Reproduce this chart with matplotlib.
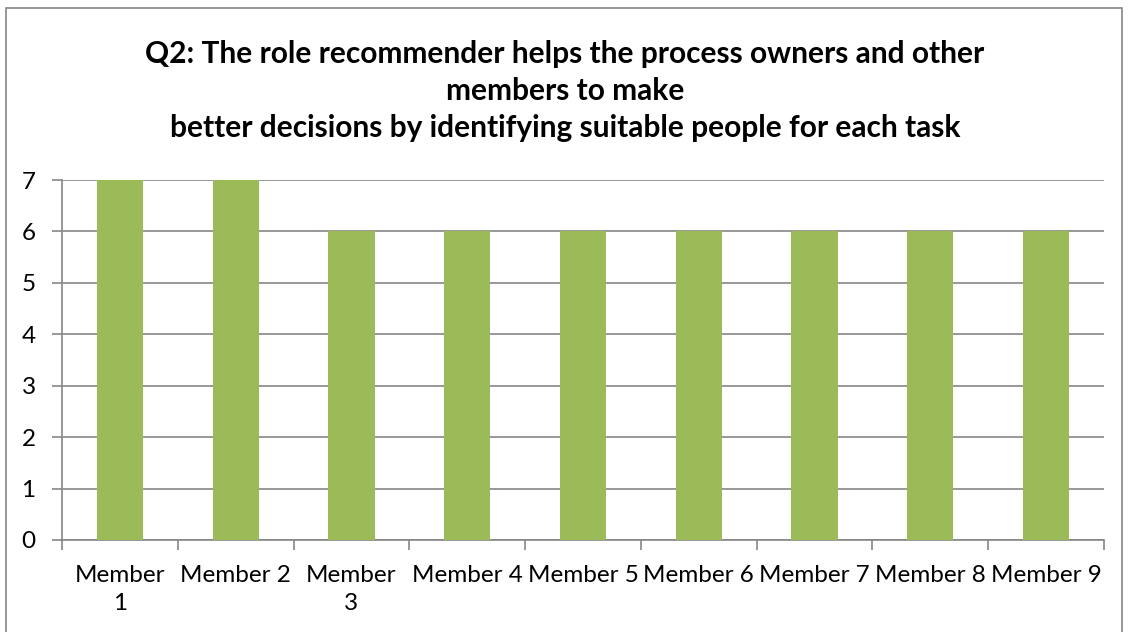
import matplotlib.pyplot as plt
from matplotlib.patches import Rectangle
import numpy as np

plt.rcParams['font.family'] = ['Lato', 'DejaVu Sans']

members = ["Member\n1", "Member 2", "Member\n3", "Member 4", "Member 5",
           "Member 6", "Member 7", "Member 8", "Member 9"]
scores = [7, 7, 6, 6, 6, 6, 6, 6, 6]
yticks = [0, 1, 2, 3, 4, 5, 6, 7]

title = ("Q2: The role recommender helps the process owners and other\n"
         "members to make\n"
         "better decisions by identifying suitable people for each task")

fig = plt.figure(figsize=(11.3, 6.32), dpi=100)
ax = fig.add_axes([62 / 1130, 1 - 540 / 632, (1104 - 62) / 1130, 360 / 632])

x = np.arange(len(members))
ax.bar(x, scores, width=0.4, color="#9BBB59", zorder=3)

ax.set_xlim(-0.5, len(members) - 0.5)
ax.set_ylim(0, 7)
ax.set_yticks(yticks)
ax.yaxis.grid(True, color="#868686", linewidth=1.2, zorder=0)

# category labels centred, tick marks between categories
ax.set_xticks(x)
ax.set_xticklabels(members, fontsize=17.5, linespacing=1.4)
ax.set_xticks(np.arange(-0.5, len(members)), minor=True)
ax.tick_params(axis="x", which="major", length=0, pad=18)
ax.tick_params(axis="x", which="minor", length=7, width=1.2, color="#868686", direction="out")
ax.tick_params(axis="y", length=7, width=1.2, color="#868686", labelsize=17.5, pad=12)

for side in ["top", "right"]:
    ax.spines[side].set_visible(False)
for side in ["left", "bottom"]:
    ax.spines[side].set_color("#868686")
    ax.spines[side].set_linewidth(1.2)

fig.text(565 / 1130, 1 - 40 / 632, title, ha="center", va="top",
         fontsize=21.5, fontweight="bold", linespacing=1.4)

fig.patches.append(Rectangle((6 / 1130, -0.01), 1116 / 1130, 1 - 8 / 632 + 0.01,
                             transform=fig.transFigure, fill=False,
                             edgecolor="#868686", linewidth=1.2))

fig.savefig("out.png", dpi=100)
